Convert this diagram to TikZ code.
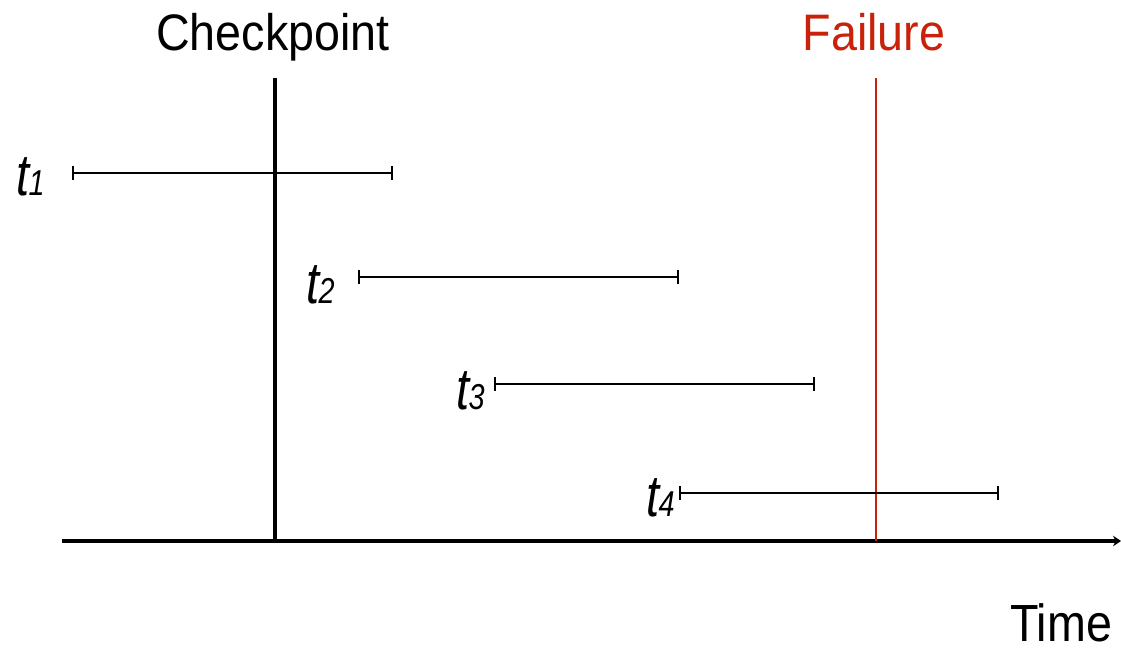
\documentclass[tikz,border=0pt]{standalone}
\usepackage{fontspec}
\setmainfont{Liberation Sans}
\usetikzlibrary{arrows.meta}
\definecolor{failred}{RGB}{200,35,10}
% Label der Transaktion: schmales kursives t mit Index
\newcommand{\tlab}[1]{\scalebox{0.8}[1]{\itshape t\kern-0.5pt{\fontsize{27}{27}\selectfont #1}}}
\newcommand{\tall}[1]{\scalebox{1}[1.1]{#1}}

\begin{document}
\begin{tikzpicture}[x=0.75pt, y=-0.75pt,
	interval/.style={line width=2.2pt, {Bar[width=10pt,line width=1.6pt]}-{Bar[width=10pt,line width=1.6pt]}},
	lbl/.style={font=\fontsize{35}{40}\selectfont, inner sep=0pt},
	tlbl/.style={font=\fontsize{44}{48}\selectfont, anchor=base east, inner sep=0pt}]
	\useasboundingbox (0,0) rectangle (1121,650);
	
	% Zeitachse
	\coordinate (ax0) at (62,541);
	\coordinate (ax1) at (1121,541);
	\draw[line width=2.4pt, -{Stealth[length=6pt,width=8pt]}] (ax0) -- (ax1);
	\node[lbl, anchor=base] (time) at (1061,641) {\scalebox{1}[1.12]{Time}};
	
	% Checkpoint
	\node[lbl, anchor=base] (ckpt) at (273,50) {\tall{Checkpoint}};
	\coordinate (ck0) at (275,78);
	\coordinate (ck1) at (275,541);
	\draw[line width=2.4pt] (ck0) -- (ck1);
	
	% Failure
	\node[lbl, anchor=base, text=failred] (fail) at (874,50) {\tall{Failure}};
	\coordinate (fl0) at (876,78);
	\coordinate (fl1) at (876,541);
	\draw[line width=1.8pt, failred] (fl0) -- (fl1);
	
	% Transaktionen
	\coordinate (s1) at (72,173);  \coordinate (e1) at (393,173);
	\coordinate (s2) at (358,277); \coordinate (e2) at (679,277);
	\coordinate (s3) at (494,384); \coordinate (e3) at (815,384);
	\coordinate (s4) at (679,493); \coordinate (e4) at (999,493);
	\draw[interval] (s1) -- (e1);
	\draw[interval] (s2) -- (e2);
	\draw[interval] (s3) -- (e3);
	\draw[interval] (s4) -- (e4);
	
	\node[tlbl] (t1) at (45,195) {\tlab{1}};
	\node[tlbl] (t2) at (335,303) {\tlab{2}};
	\node[tlbl] (t3) at (485,409) {\tlab{3}};
	\node[tlbl] (t4) at (675,516) {\tlab{4}};
\end{tikzpicture}
\end{document}
